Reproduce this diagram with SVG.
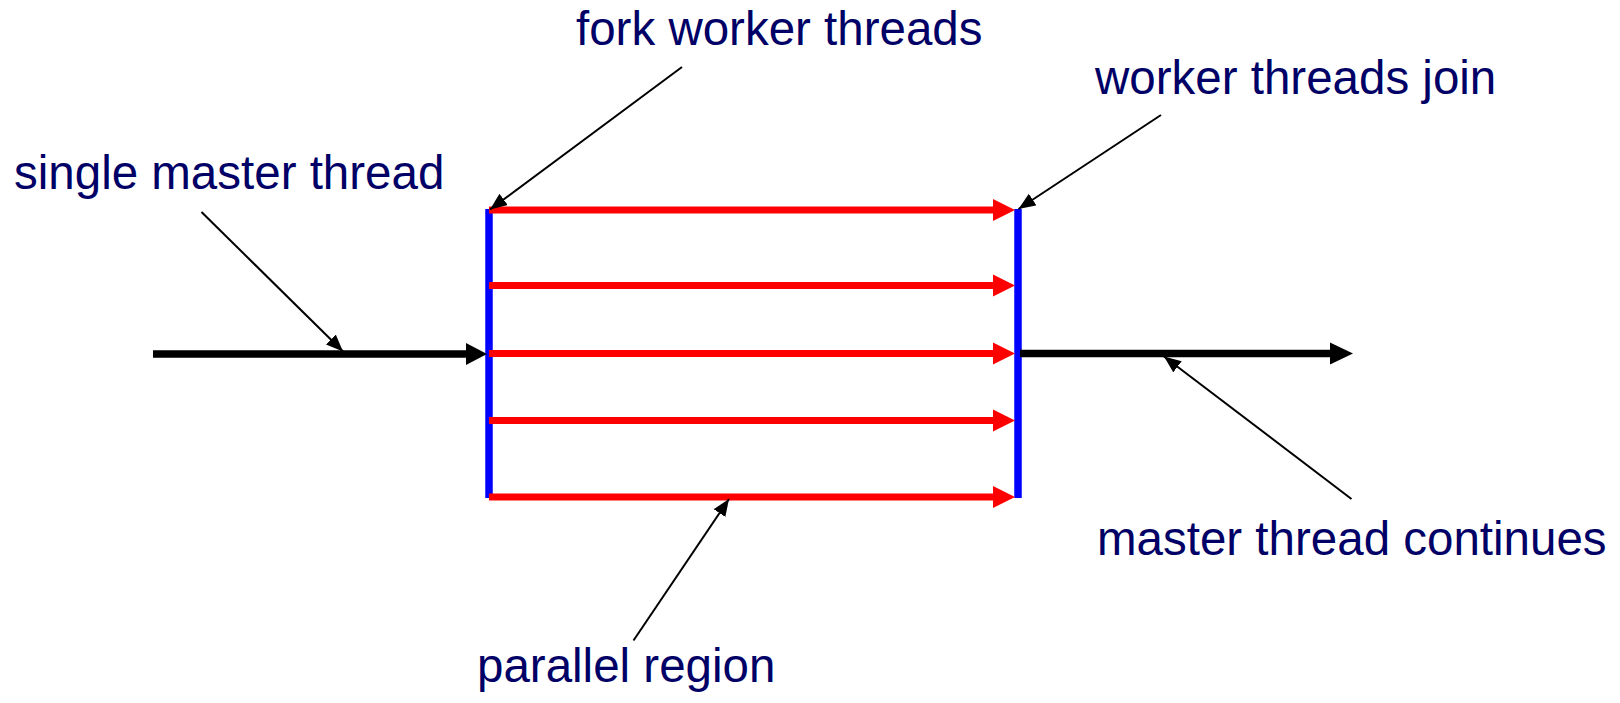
<svg xmlns="http://www.w3.org/2000/svg" width="1620" height="703" viewBox="0 0 1620 703">
<style>
text{font-family:"Liberation Sans",Arial,sans-serif;font-size:47.5px;fill:#000066}
.red{stroke:#ff0000;stroke-width:7;fill:none}
.blue{stroke:#0000ff;stroke-width:7.5;fill:none}
.main{stroke:#000000;stroke-width:7.5;fill:none}
.lead{stroke:#000000;stroke-width:2;fill:none;marker-end:url(#la)}
</style>
<defs>
<marker id="la" markerUnits="userSpaceOnUse" markerWidth="20" markerHeight="16" refX="17" refY="7" orient="auto">
<path d="M0,0 L17,7 L0,14 Z" fill="#000"/>
</marker>
</defs>
<rect width="1620" height="703" fill="#fff"/>
<g id="parallel-region">
<line class="blue" x1="489" y1="209" x2="489" y2="498"/>
<line class="blue" x1="1018" y1="209" x2="1018" y2="498"/>
<line class="red" x1="489" y1="210" x2="994" y2="210"/>
<polygon points="993,199 1015,210 993,221" fill="#ff0000"/>
<line class="red" x1="489" y1="285.5" x2="994" y2="285.5"/>
<polygon points="993,274.5 1015,285.5 993,296.5" fill="#ff0000"/>
<line class="red" x1="489" y1="353.5" x2="994" y2="353.5"/>
<polygon points="993,342.5 1015,353.5 993,364.5" fill="#ff0000"/>
<line class="red" x1="489" y1="420.5" x2="994" y2="420.5"/>
<polygon points="993,409.5 1015,420.5 993,431.5" fill="#ff0000"/>
<line class="red" x1="489" y1="497" x2="994" y2="497"/>
<polygon points="993,486 1015,497 993,508" fill="#ff0000"/>
</g>
<g id="master-in">
<line class="main" x1="153" y1="354" x2="467" y2="354"/>
<polygon points="466,343 487,354 466,365" fill="#000"/>
</g>
<g id="master-out">
<line class="main" x1="1020" y1="353.5" x2="1331" y2="353.5"/>
<polygon points="1330,342.5 1353,353.5 1330,364.5" fill="#000"/>
</g>
<g id="label-single"><text x="14" y="188.5">single master thread</text></g>
<g id="label-fork"><text x="576" y="45">fork worker threads</text></g>
<g id="label-join"><text x="1095" y="93.5">worker threads join</text></g>
<g id="label-continues"><text x="1097" y="555">master thread continues</text></g>
<g id="label-parallel"><text x="477" y="682">parallel region</text></g>
<g id="connectors">
<line class="lead" x1="201.5" y1="212" x2="343" y2="351.5"/>
<line class="lead" x1="682" y1="67" x2="490" y2="209.5"/>
<line class="lead" x1="1161" y1="115" x2="1018.5" y2="209"/>
<line class="lead" x1="1351.5" y1="499" x2="1164" y2="356.5"/>
<line class="lead" x1="633.5" y1="640.5" x2="729" y2="499"/>
</g>
</svg>
